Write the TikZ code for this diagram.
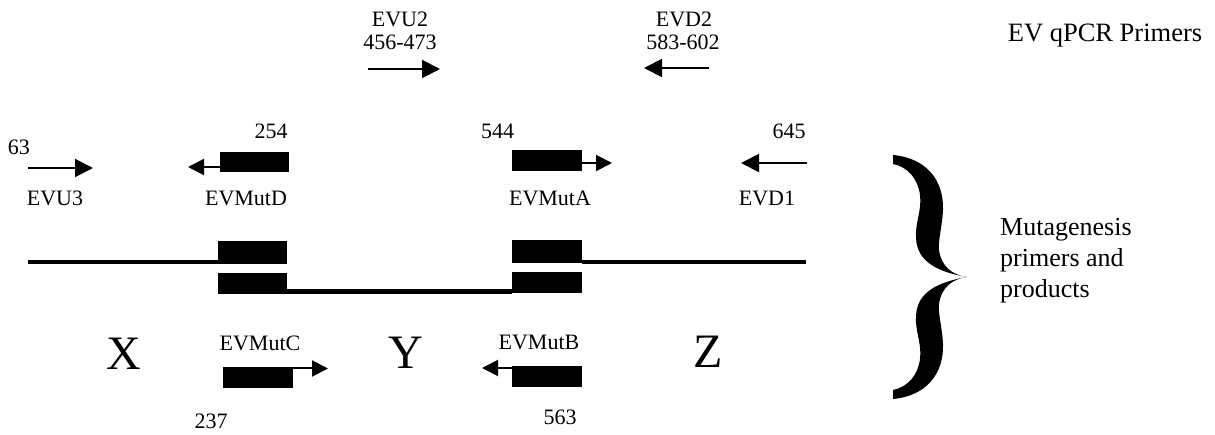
\documentclass[tikz,border=0pt]{standalone}
\usepackage{fontspec}
\setmainfont{Liberation Serif}
\usetikzlibrary{arrows.meta}
\begin{document}
\begin{tikzpicture}[x=1pt,y=-1pt,
  lbl/.style={inner sep=0pt, anchor=base, font=\fontsize{22}{26}\selectfont},
  big/.style={inner sep=0pt, anchor=base, font=\fontsize{48}{56}\selectfont},
  prim/.style={line width=2pt, -{Triangle[length=18pt,width=18pt]}},
  mprim/.style={line width=2pt, -{Triangle[length=16pt,width=16pt]}},
  gene/.style={line width=4.5pt},
  blk/.style={fill=black, inner sep=0pt, minimum width=70pt, minimum height=21pt},
]
\fill[white] (0,0) rectangle (1215,435);
\useasboundingbox (0,0) rectangle (1215,435);

% qPCR primers (top row)
\node[lbl] (evu2) at (400,26.7) {EVU2};
\node[lbl] (evu2r) at (400,50) {456-473};
\node[lbl] (evd2) at (684,26.7) {EVD2};
\node[lbl] (evd2r) at (683,50) {583-602};
\node[inner sep=0pt, anchor=base, font=\fontsize{26.5}{31}\selectfont] (title) at (1105,41.7) {EV qPCR Primers};
\coordinate (u2s) at (368,69);
\coordinate (u2e) at (440,69);
\coordinate (d2s) at (709,68);
\coordinate (d2e) at (644,68);
\draw[prim] (u2s) -- (u2e);
\draw[prim] (d2s) -- (d2e);

% outer primers and upper mutagenesis primers
\node[lbl] (n63) at (19,155) {63};
\node[lbl] (n254) at (271,139) {254};
\node[lbl] (n544) at (497.5,139) {544};
\node[lbl] (n645) at (789,139) {645};
\node[lbl] (evu3) at (55,206) {EVU3};
\node[lbl] (mutDl) at (246,206) {EVMutD};
\node[lbl] (mutAl) at (550,206) {EVMutA};
\node[lbl] (evd1) at (767,206) {EVD1};

\coordinate (u3s) at (28,168);
\coordinate (u3e) at (93,168);
\coordinate (d1s) at (807,163);
\coordinate (d1e) at (741,163);
\draw[prim] (u3s) -- (u3e);
\draw[prim] (d1s) -- (d1e);

\node[blk, minimum width=69pt, minimum height=20pt] (mutD) at (254.5,162) {};
\node[blk] (mutA) at (547,160.5) {};
\coordinate (dT) at (188,167);
\coordinate (aT) at (612,163);
\draw[mprim] (mutD.west |- dT) -- (dT);
\draw[mprim] (mutA.east |- aT) -- (aT);

% template strands with the overlapping mutated blocks
\node[blk, minimum width=69pt, minimum height=23pt] (upL) at (252.5,252.5) {};
\node[blk, minimum height=23pt] (upR) at (547,252) {};
\node[blk, minimum width=69pt] (lowL) at (252.5,283.5) {};
\node[blk] (lowR) at (547,283) {};
\coordinate (g0) at (28,262);
\coordinate (g1) at (806,262);
\coordinate (gm) at (400,291.5);
\draw[gene] (g0) -- (upL.west |- g0);
\draw[gene] (upR.east |- g1) -- (g1);
\draw[gene] (lowL.east |- gm) -- (lowR.west |- gm);

% region letters
\node[big] (X) at (124,370) {X};
\node[big] (Y) at (406,368) {Y};
\node[big] (Z) at (708,367) {Z};

% lower mutagenesis primers
\node[lbl] (mutCl) at (260,350.5) {EVMutC};
\node[lbl] (mutBl) at (539,349) {EVMutB};
\node[lbl] (n237) at (211,428) {237};
\node[lbl] (n563) at (560,424) {563};
\node[blk] (mutC) at (258,377.5) {};
\node[blk] (mutB) at (547,376.5) {};
\coordinate (cT) at (328,368.5);
\coordinate (bT) at (482,368);
\draw[mprim] (mutC.east |- cT) -- (cT);
\draw[mprim] (mutB.west |- bT) -- (bT);

% curly brace grouping the mutagenesis part
\fill (893,155) .. controls (926,158) and (944,180) .. (943,210)
  .. controls (942,228) and (938,240) .. (939,250)
  .. controls (941,266) and (952,275) .. (967,277)
  .. controls (938,272) and (917,262) .. (916,238)
  .. controls (915,223) and (922,210) .. (920,195)
  .. controls (918,179) and (908,167) .. (893,164) -- cycle;
\fill (893,399) .. controls (926,396) and (944,374) .. (943,344)
  .. controls (942,326) and (938,314) .. (939,304)
  .. controls (941,288) and (952,279) .. (967,277)
  .. controls (938,282) and (917,292) .. (916,316)
  .. controls (915,331) and (922,344) .. (920,359)
  .. controls (918,375) and (908,387) .. (893,390) -- cycle;
\node[inner sep=0pt, anchor=north west, align=left, font=\fontsize{26}{31}\selectfont] (mut) at (1000,218) {Mutagenesis\\primers and\\products};
\end{tikzpicture}
\end{document}
